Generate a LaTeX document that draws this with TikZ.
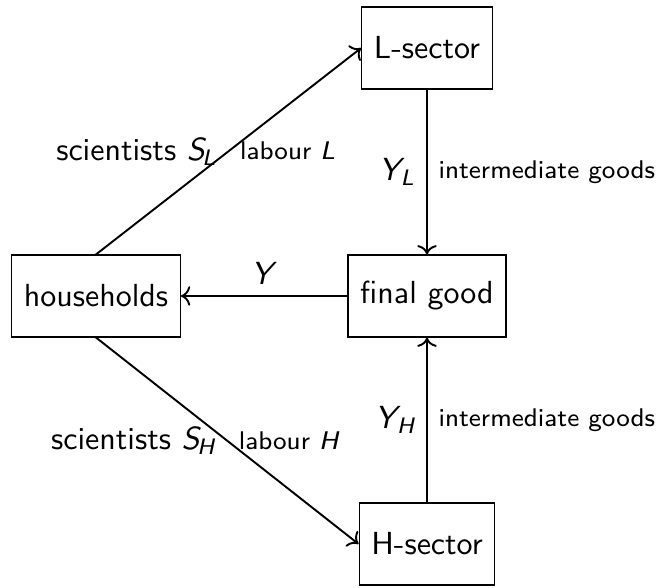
\documentclass[tikz,border=0pt]{standalone}
\usepackage{amsmath}
\usepackage{tikz}
\usetikzlibrary{arrows.meta}
\renewcommand{\familydefault}{\sfdefault}
\newcommand{\econvar}[2]{\textsl{#1}\kern-0.12em$_{\textsl{#2}}$}

\begin{document}
\begin{tikzpicture}[scale=1, font=\sffamily,
    sector/.style={draw, inner xsep=3.8pt, minimum height=0.9cm},
    flow/.style={semithick, ->}]
    \useasboundingbox (0, 0) rectangle (7.216, -6.468);

    % The sectors and the households
    \node[sector] (lsec) at (4.697, -0.528) {L-sector};
    \node[sector] (hh) at (1.056, -3.256) {households};
    \node[sector] (fin) at (4.697, -3.256) {final good};
    \node[sector] (hsec) at (4.697, -5.984) {H-sector};

    % Labour and scientists go to the sectors
    \draw[flow] (hh.north) -- (lsec.west)
        node[midway, left] {scientists \econvar{S}{L}}
        node[midway, right] {\footnotesize labour \textsl{L}};
    \draw[flow] (hh.south) -- (hsec.west)
        node[midway, left] {scientists \econvar{S}{H}}
        node[midway, right] {\footnotesize labour \textsl{H}};

    % Intermediate goods into the final good
    \draw[flow] (lsec) -- (fin)
        node[midway, left] {\econvar{Y}{L}}
        node[midway, right] {\footnotesize intermediate goods};
    \draw[flow] (hsec) -- (fin)
        node[midway, left] {\econvar{Y}{H}}
        node[midway, right] {\footnotesize intermediate goods};

    % Output back to the households
    \draw[flow] (fin) -- (hh) node[midway, above] {\textsl{Y}};
\end{tikzpicture}
\end{document}
